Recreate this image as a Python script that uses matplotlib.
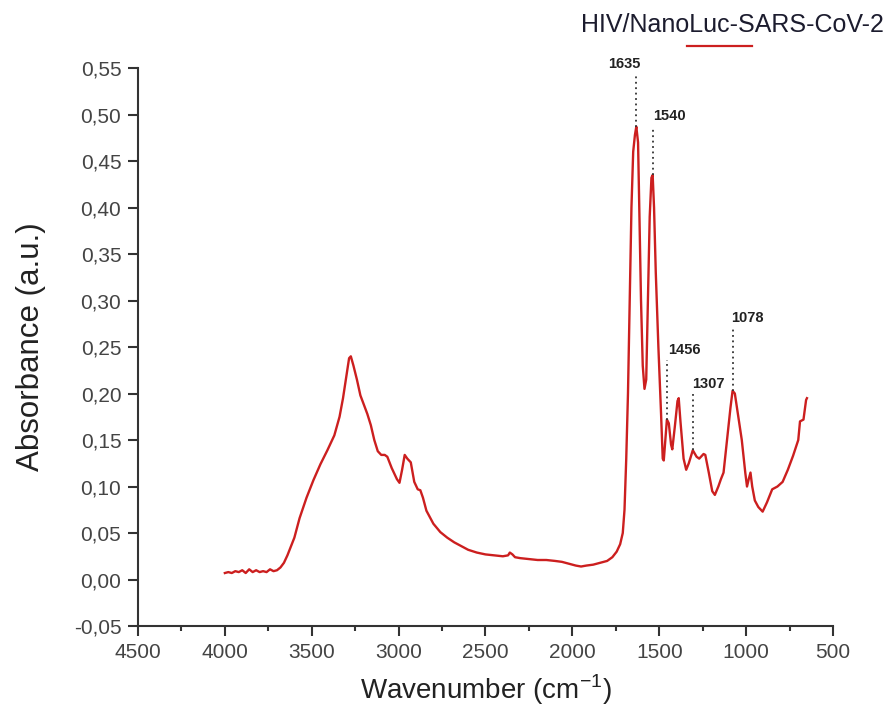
import matplotlib.pyplot as plt
from matplotlib.lines import Line2D
from matplotlib.ticker import FuncFormatter, MultipleLocator

plt.rcParams['font.family'] = ['Liberation Sans', 'DejaVu Sans']
plt.rcParams['mathtext.fontset'] = 'custom'
plt.rcParams['mathtext.rm'] = 'Liberation Sans'

# FTIR spectrum
wavenumber = [
    4000, 3980, 3960, 3940, 3920, 3900, 3880, 3860, 3840, 3820, 3800, 3780,
    3760, 3740, 3720, 3700, 3680, 3660, 3640, 3600, 3570, 3530, 3490, 3450,
    3410, 3370, 3340, 3320, 3300, 3285, 3275, 3260, 3240, 3220, 3200, 3180,
    3160, 3140, 3120, 3100, 3080, 3065, 3040, 3010, 2995, 2980, 2965, 2950,
    2930, 2910, 2890, 2875, 2860, 2840, 2800, 2760, 2720, 2680, 2640, 2600,
    2550, 2500, 2450, 2400, 2370, 2360, 2345, 2330, 2300, 2250, 2200, 2150,
    2100, 2060, 2020, 1980, 1950, 1920, 1880, 1840, 1800, 1770, 1745, 1725,
    1710, 1700, 1690, 1680, 1670, 1660, 1650, 1640, 1632, 1622, 1615, 1605,
    1595, 1585, 1575, 1565, 1555, 1545, 1538, 1530, 1520, 1505, 1490, 1480,
    1474, 1465, 1456, 1445, 1432, 1425, 1410, 1395, 1388, 1378, 1360, 1345,
    1330, 1307, 1285, 1270, 1245, 1235, 1215, 1195, 1180, 1160, 1145, 1130,
    1110, 1090, 1078, 1065, 1045, 1025, 1005, 995, 985, 975, 965, 950,
    930, 905, 880, 850, 820, 790, 760, 730, 700, 690, 670, 655, 650,
]
absorbance = [
    0.007, 0.008, 0.007, 0.009, 0.008, 0.010, 0.007, 0.011, 0.008, 0.010, 0.008, 0.009,
    0.008, 0.011, 0.009, 0.010, 0.013, 0.018, 0.026, 0.045, 0.066, 0.088, 0.107, 0.124,
    0.139, 0.155, 0.175, 0.195, 0.220, 0.238, 0.240, 0.230, 0.215, 0.198, 0.188, 0.178,
    0.166, 0.150, 0.138, 0.134, 0.134, 0.132, 0.120, 0.108, 0.104, 0.118, 0.134, 0.130,
    0.126, 0.105, 0.097, 0.096, 0.088, 0.074, 0.060, 0.051, 0.045, 0.040, 0.036, 0.032,
    0.029, 0.027, 0.026, 0.025, 0.026, 0.029, 0.027, 0.024, 0.023, 0.022, 0.021, 0.021,
    0.020, 0.019, 0.017, 0.015, 0.014, 0.015, 0.016, 0.018, 0.020, 0.024, 0.030, 0.038,
    0.050, 0.075, 0.130, 0.200, 0.300, 0.400, 0.460, 0.478, 0.487, 0.470, 0.400, 0.300,
    0.230, 0.205, 0.215, 0.300, 0.390, 0.432, 0.435, 0.400, 0.330, 0.250, 0.180, 0.130,
    0.128, 0.150, 0.172, 0.168, 0.145, 0.140, 0.165, 0.192, 0.195, 0.170, 0.130, 0.118,
    0.125, 0.139, 0.132, 0.130, 0.135, 0.134, 0.115, 0.095, 0.091, 0.100, 0.108, 0.115,
    0.150, 0.185, 0.203, 0.200, 0.175, 0.150, 0.115, 0.100, 0.108, 0.115, 0.100, 0.085,
    0.078, 0.073, 0.083, 0.097, 0.100, 0.105, 0.118, 0.133, 0.150, 0.170, 0.172, 0.193, 0.195,
]

# labelled peaks: position, peak height, label x, label y
peak_names = ['1635', '1540', '1456', '1307', '1078']
peak_pos = [1632, 1538, 1456, 1307, 1078]
peak_top = [0.487, 0.435, 0.172, 0.139, 0.203]
label_x = [1703, 1444, 1358, 1219, 995]
label_y = [0.554, 0.498, 0.247, 0.210, 0.281]

line_color = '#cc1f1f'
axis_color = '#333333'


def fmt_comma(v, pos):
    return f'{v:.2f}'.replace('.', ',')


def plot_spectrum():
    fig = plt.figure(figsize=(8.96, 7.19), dpi=100)
    ax = fig.add_axes([0.154, 0.1293, 0.9297 - 0.154, 0.9054 - 0.1293])

    ax.plot(wavenumber, absorbance, color=line_color, lw=1.7)

    for name, px, py, tx, ty in zip(peak_names, peak_pos, peak_top, label_x, label_y):
        ax.plot([px, px], [py, ty - 0.011], color=axis_color, lw=1.3,
                linestyle=(0, (1, 2)))
        ax.text(tx, ty, name, ha='center', va='center', fontsize=10.5,
                fontweight='bold', color='#222222')

    ax.set_xlim(4500, 500)
    ax.set_ylim(-0.05, 0.55)
    ax.xaxis.set_major_locator(MultipleLocator(500))
    ax.xaxis.set_minor_locator(MultipleLocator(250))
    ax.yaxis.set_major_locator(MultipleLocator(0.05))
    ax.yaxis.set_major_formatter(FuncFormatter(fmt_comma))

    for s in ['top', 'right']:
        ax.spines[s].set_visible(False)
    for s in ['left', 'bottom']:
        ax.spines[s].set_color(axis_color)
        ax.spines[s].set_linewidth(1.5)

    ax.tick_params(which='major', direction='out', length=7, width=1.5,
                   color=axis_color, labelsize=15, labelcolor='#444444', pad=5)
    ax.tick_params(which='minor', direction='out', length=3.5, width=1.5,
                   color=axis_color)

    ax.set_xlabel(r'Wavenumber (cm$^{\mathregular{-1}}$)', fontsize=20,
                  color='#222222', labelpad=8)
    ax.set_ylabel('Absorbance (a.u.)', fontsize=22.5, color='#222222', labelpad=20)

    # legend drawn like the original: text with the sample line under it
    fig.text(732 / 896, 1 - 25 / 719, 'HIV/NanoLuc-SARS-CoV-2', ha='center',
             va='center', fontsize=18, color='#1c1c2e')
    fig.add_artist(Line2D([687 / 896, 752 / 896], [1 - 46 / 719, 1 - 46 / 719],
                          color=line_color, lw=1.6))

    fig.savefig('out.png', dpi=100)


if __name__ == '__main__':
    plot_spectrum()
